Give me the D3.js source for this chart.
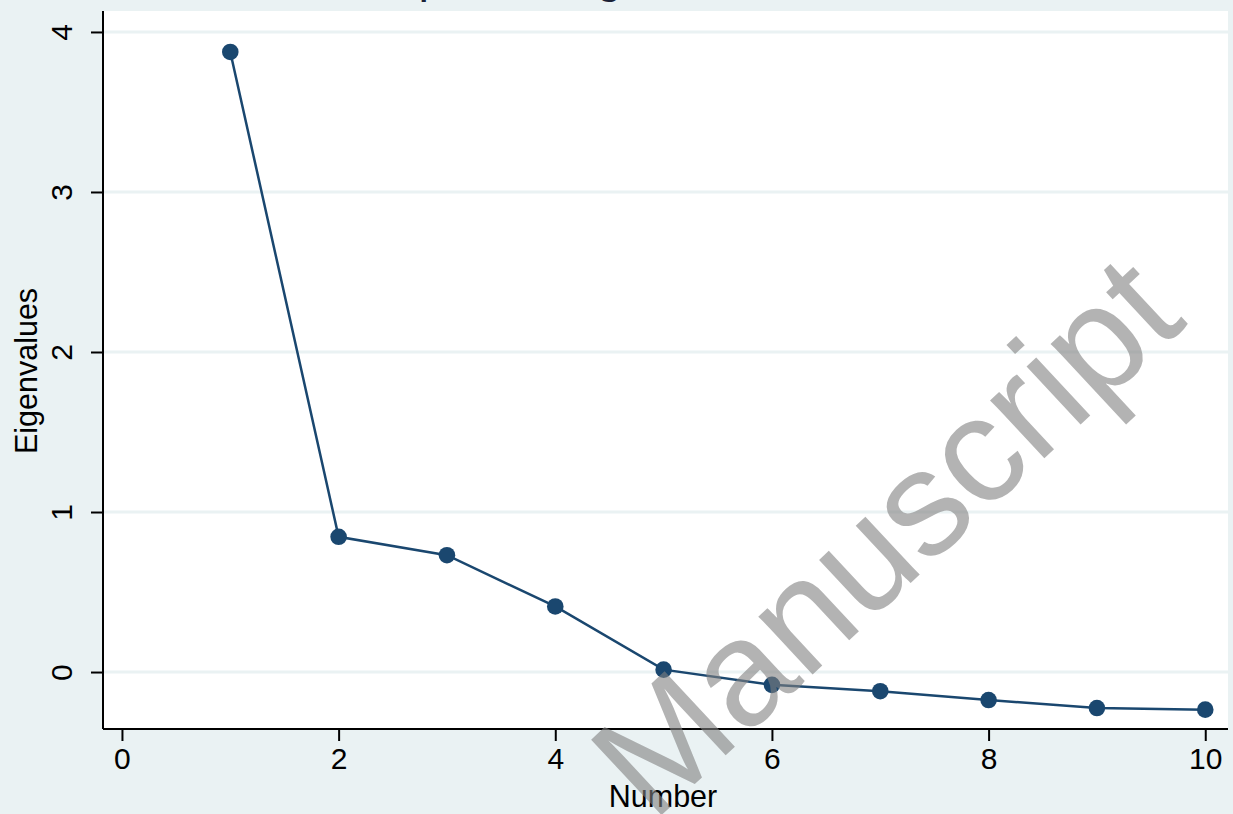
<!DOCTYPE html>
<html>
<head>
<meta charset="utf-8">
<script src="https://cdn.jsdelivr.net/npm/d3@7"></script>
<style>
    html, body { margin: 0; padding: 0; background: #eaf2f3; }
    svg { display: block; font-family: "Liberation Sans", Arial, sans-serif; }
</style>
</head>
<body>
<svg id="chart" width="1233" height="814"></svg>
<script>
const factorNumbers = [1, 2, 3, 4, 5, 6, 7, 8, 9, 10];
const eigenvalues = [3.875, 0.845, 0.73, 0.41, 0.015, -0.08, -0.12, -0.175, -0.225, -0.235];
const xTicks = [0, 2, 4, 6, 8, 10];
const yTicks = [0, 1, 2, 3, 4];

const TITLE = 'Scree plot of eigenvalues after factor';
const X_LABEL = 'Number';
const Y_LABEL = 'Eigenvalues';
const WATERMARK = 'Manuscript';

const NAVY = '#1a476f';
const BG = '#eaf2f3';

let plot = {left: 103, right: 1228, top: 11, bottom: 729};

let x = d3.scaleLinear().domain([-0.175, 10.21]).range([plot.left, plot.right]);
let y = d3.scaleLinear().domain([-0.356, 4.131]).range([plot.bottom, plot.top]);

let svg = d3.select('#chart');

svg.append('rect')
    .attr('width', 1233)
    .attr('height', 814)
    .attr('fill', BG);

// title is cropped off the top, only the descenders peek through
svg.append('text')
    .attr('x', (plot.left + plot.right) / 2)
    .attr('y', -8)
    .attr('text-anchor', 'middle')
    .attr('font-size', 47)
    .attr('fill', '#1b2236')
    .text(TITLE);

svg.append('rect')
    .attr('x', plot.left)
    .attr('y', plot.top)
    .attr('width', plot.right - plot.left)
    .attr('height', plot.bottom - plot.top)
    .attr('fill', 'white');

// gridlines
svg.append('g').selectAll('line')
    .data(yTicks)
    .join('line')
    .attr('x1', plot.left)
    .attr('x2', plot.right)
    .attr('y1', d => y(d))
    .attr('y2', d => y(d))
    .attr('stroke', BG)
    .attr('stroke-width', 3);

let points = factorNumbers.map((n, i) => ({n: n, value: eigenvalues[i]}));

let line = d3.line()
    .x(d => x(d.n))
    .y(d => y(d.value));

svg.append('path')
    .datum(points)
    .attr('d', line)
    .attr('fill', 'none')
    .attr('stroke', NAVY)
    .attr('stroke-width', 2.5);

svg.append('g').selectAll('circle')
    .data(points)
    .join('circle')
    .attr('cx', d => x(d.n))
    .attr('cy', d => y(d.value))
    .attr('r', 8.3)
    .attr('fill', NAVY);

// axes
let xAxis = svg.append('g')
    .attr('transform', `translate(0,${plot.bottom})`)
    .call(d3.axisBottom(x).tickValues(xTicks).tickFormat(d3.format('d'))
        .tickSize(12).tickSizeOuter(0));

let yAxis = svg.append('g')
    .attr('transform', `translate(${plot.left},0)`)
    .call(d3.axisLeft(y).tickValues(yTicks).tickFormat(d3.format('d'))
        .tickSize(12).tickSizeOuter(0));

[xAxis, yAxis].forEach(axis => {
    axis.select('.domain').attr('stroke', 'black').attr('stroke-width', 2);
    axis.selectAll('.tick line').attr('stroke', 'black').attr('stroke-width', 2);
    axis.selectAll('.tick text')
        .attr('fill', 'black')
        .attr('font-size', 30)
        .attr('font-family', '"Liberation Sans", Arial, sans-serif');
});

xAxis.select('.domain').attr('d', `M${plot.left},0H${plot.right}`);
yAxis.select('.domain').attr('d', `M0,${plot.bottom}V${plot.top}`);

xAxis.selectAll('.tick text').attr('dy', '0.71em').attr('y', 19);

yAxis.selectAll('.tick text')
    .attr('x', 0)
    .attr('dy', 0)
    .attr('y', -31)
    .attr('text-anchor', 'middle')
    .attr('transform', 'rotate(-90)');

svg.append('text')
    .attr('x', 663)
    .attr('y', 807)
    .attr('text-anchor', 'middle')
    .attr('font-size', 30.5)
    .attr('fill', 'black')
    .text(X_LABEL);

svg.append('text')
    .attr('transform', 'translate(37,371) rotate(-90)')
    .attr('text-anchor', 'middle')
    .attr('font-size', 30.5)
    .attr('fill', 'black')
    .text(Y_LABEL);

// watermark
svg.append('text')
    .attr('transform', 'translate(885,535) rotate(-43)')
    .attr('text-anchor', 'middle')
    .attr('dy', '0.35em')
    .attr('font-size', 150)
    .attr('fill', '#808080')
    .attr('fill-opacity', 0.6)
    .text(WATERMARK);
</script>
</body>
</html>
